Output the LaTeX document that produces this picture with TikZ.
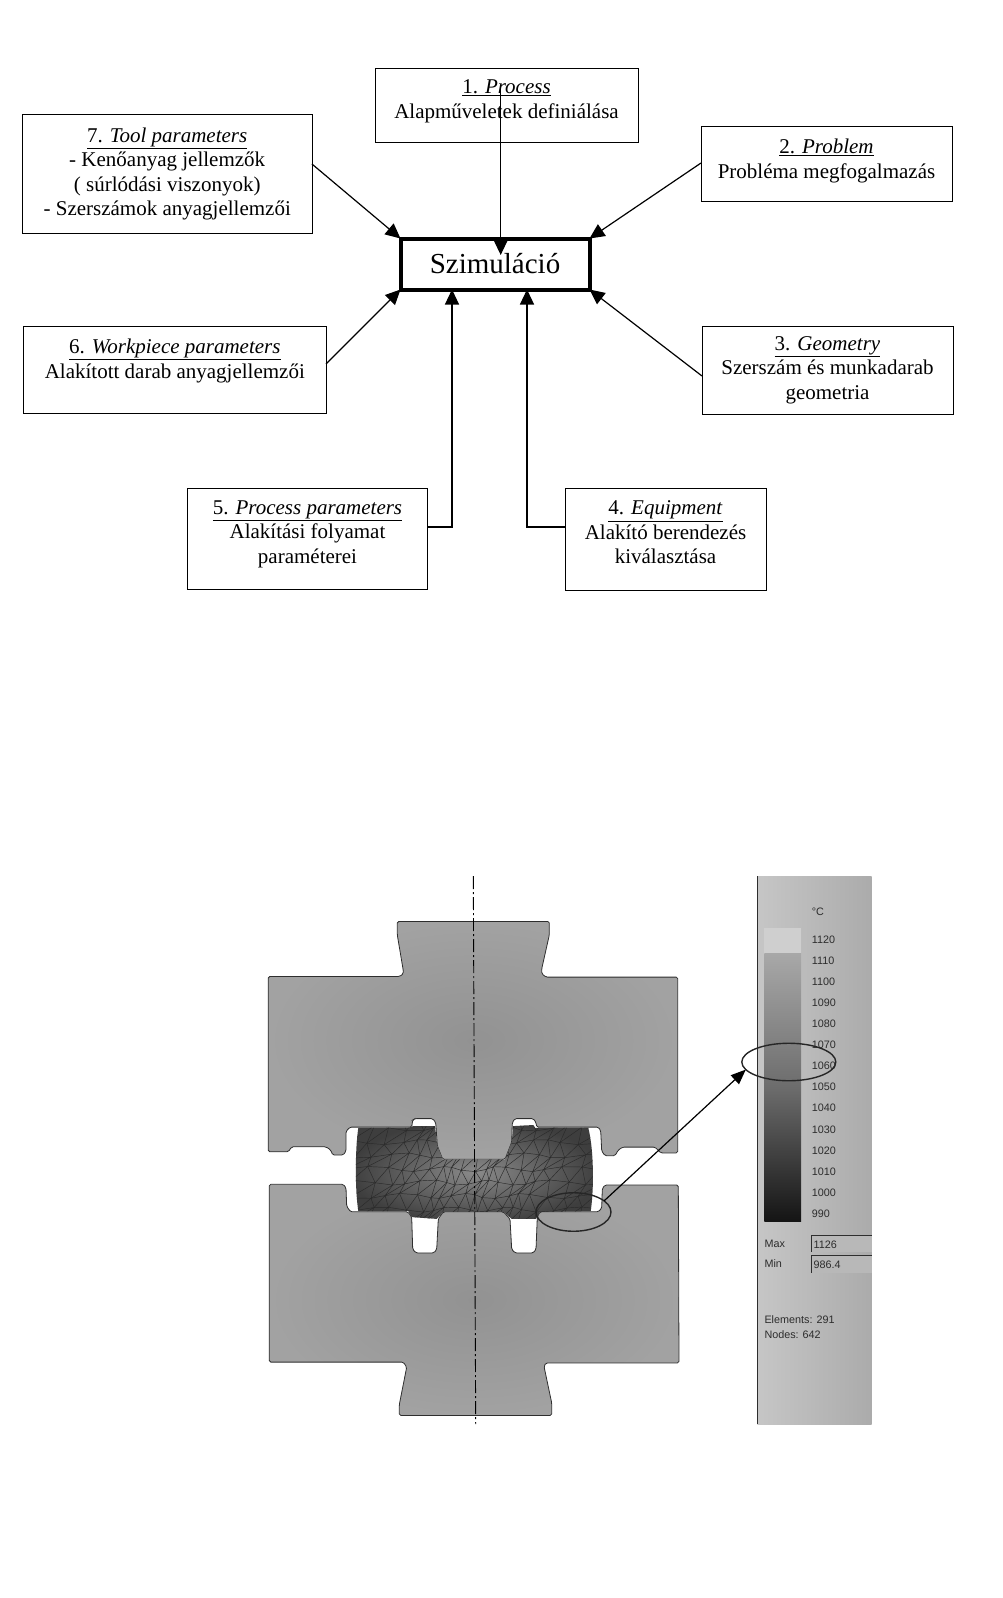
\documentclass[tikz,border=0pt]{standalone}
\usepackage{fontspec}
\setmainfont{Liberation Serif}
\newfontfamily\legendfont{Liberation Sans}
\usetikzlibrary{arrows.meta,shapes.geometric}
\definecolor{DieGray}{HTML}{A2A2A2}
\definecolor{DieDark}{HTML}{929292}
\definecolor{DieLine}{HTML}{2E2E2E}
\definecolor{PartDark}{HTML}{3E3E3E}
\definecolor{PartMid}{HTML}{8A8A8A}
\definecolor{MeshLine}{HTML}{2A2A2A}
\definecolor{PanelLight}{HTML}{C6C6C6}
\definecolor{PanelGray}{HTML}{ABABAB}
\definecolor{LegendLight}{HTML}{CFCFCF}
\definecolor{LegendTop}{HTML}{A8A8A8}
\definecolor{LegendMid}{HTML}{6C6C6C}
\definecolor{LegendEnd}{HTML}{141414}
\definecolor{LegendText}{HTML}{2C2C2C}
\tikzset{
  infobox/.style={draw,line width=0.9pt,outer sep=0pt,inner sep=0pt,align=center,font=\fontsize{21}{24.5}\selectfont},
  lift/.style={text depth=#1},
  flowline/.style={line width=1.2pt,-{Triangle[length=15pt,width=14pt]}},
  mark ring/.style={draw=black!85,line width=1.4pt,ellipse,inner sep=0pt,outer sep=0pt},
  dieshape/.style={draw=DieLine,line width=0.8pt,rounded corners=1.5pt,shading=radial,inner color=DieDark,outer color=DieGray},
  legendtext/.style={text=LegendText,anchor=west,inner sep=0pt,font=\legendfont\fontsize{10.8}{12}\selectfont}
}
\begin{document}
\begin{tikzpicture}[x=1pt,y=-1pt,
    declare function={
      ux(\i)=(\i-9)/9;
      meshx(\i,\j)=474+ux(\i)*(95+30*ux(\i)*ux(\i))+5*mod(\j,2)+2.6*sin(\i*97+\j*61);
      meshy(\i,\j)=1115+\j*13.5+2.6*cos(\i*71+\j*113);
    }]
  \useasboundingbox (0,0) rectangle (1002,1598);
  \node[infobox,minimum width=263pt,minimum height=74pt,lift=12pt] (process) at (506.5,105) {\underline{1. \textit{Process}}\\Alapműveletek definiálása};
  \node[infobox,minimum width=251pt,minimum height=75pt,lift=10pt] (problem) at (826.5,163.5) {\underline{2. \textit{Problem}}\\Probléma megfogalmazás};
  \node[infobox,minimum width=251pt,minimum height=88pt,lift=4pt] (geometry) at (827.5,370) {\underline{3. \textit{Geometry}}\\Szerszám és munkadarab\\geometria};
  \node[infobox,minimum width=201pt,minimum height=102pt,lift=13pt] (equipment) at (665.5,539) {\underline{4. \textit{Equipment}}\\Alakító berendezés\\kiválasztása};
  \node[infobox,minimum width=239.5pt,minimum height=101pt,lift=13pt] (procpar) at (307.5,538.5) {\underline{5. \textit{Process parameters}}\\Alakítási folyamat\\paraméterei};
  \node[infobox,minimum width=302.5pt,minimum height=87pt,lift=22pt] (workpiece) at (174.8,369.5) {\underline{6. \textit{Workpiece parameters}}\\Alakított darab anyagjellemzői};
  \node[infobox,minimum width=289.5pt,minimum height=119pt,lift=4pt] (tool) at (167.2,173.5) {\underline{7. \textit{Tool parameters}}\\- Kenőanyag jellemzők\\( súrlódási viszonyok)\\- Szerszámok anyagjellemzői};
  \node[draw,line width=4pt,outer sep=0pt,inner sep=0pt,minimum width=189pt,minimum height=51pt,font=\fontsize{29}{32}\selectfont] (sim) at (495,264) {Szimuláció};
  \coordinate (processtail) at (500.7,87);
  \coordinate (processhead) at (500.7,255);
  \draw[flowline] (processtail) -- (processhead);
  \draw[flowline] ([yshift=0.5pt]problem.west) -- (sim.north east);
  \draw[flowline] ([yshift=-6pt]geometry.west) -- (sim.south east);
  \draw[flowline] ([yshift=12pt]equipment.west) -| ([xshift=32pt]sim.south);
  \draw[flowline] ([yshift=11.5pt]procpar.east) -| ([xshift=-43pt]sim.south);
  \draw[flowline] ([yshift=5.5pt]workpiece.east) -- (sim.south west);
  \draw[flowline] ([yshift=9.5pt]tool.east) -- (sim.north west);

  \shade[left color=PanelLight,right color=PanelGray] (757.3,876) rectangle (871.7,1424);
  \draw[DieLine,line width=1pt] (757.3,876) -- (757.3,1424);
  \fill[LegendLight] (764.3,927.9) rectangle (801,953.6);
  \shade[top color=LegendTop,bottom color=LegendEnd,middle color=LegendMid] (764.3,953.6) rectangle (801,1221.8);
  \node[legendtext] (unit) at (811.7,911.8) {°C};
  \foreach \temp [count=\row from 0] in {1120,1110,...,990}
    \node[legendtext] (temp\temp) at (811.7,{939.6+\row*21.08}) {\temp};
  \node[legendtext] (maxlabel) at (764.3,1244) {Max};
  \node[legendtext] (minlabel) at (764.3,1263.6) {Min};
  \fill[PanelGray!85] (811,1235.7) rectangle (871.7,1251.8);
  \fill[PanelGray!85] (811,1255.7) rectangle (871.7,1272.5);
  \draw[DieLine,line width=0.9pt] (811,1251.8) -- (811,1235.7) -- (871.7,1235.7);
  \draw[DieLine,line width=0.9pt] (811,1272.5) -- (811,1255.7) -- (871.7,1255.7);
  \node[legendtext] (maxvalue) at (813.5,1244.5) {1126};
  \node[legendtext] (minvalue) at (813.5,1264.5) {986.4};
  \node[legendtext] (elements) at (764.3,1319.6) {Elements: 291};
  \node[legendtext] (nodecount) at (764.3,1335) {Nodes: 642};

  \draw[dieshape] (397.3,921.4) -- (549.3,921.4) -- (549.3,935) -- (541.7,968.9) -- (541.7,973.6) -- (546,977.1) -- (677.7,977.1) -- (677.7,1152.9) -- (660.7,1152.9) -- (655,1147.1) -- (622.7,1147.1) -- (618.3,1150) -- (615,1155.7) -- (605,1155.7) -- (601.7,1151) -- (600.7,1130.7) -- (598.3,1127.1) -- (536.7,1127.1) -- (536,1122.5) -- (533.3,1118.6) -- (515,1118.6) -- (512.3,1122.5) -- (511.7,1142.1) -- (505,1159.3) -- (442.7,1159.3) -- (437.3,1145.7) -- (435.7,1122.5) -- (432.7,1118.6) -- (415,1118.6) -- (412.7,1120) -- (411.7,1127.1) -- (350,1127.1) -- (346,1131.4) -- (346,1151) -- (343.3,1155) -- (332.7,1155) -- (330.7,1150) -- (326,1146.8) -- (291.7,1146.8) -- (288.3,1151.8) -- (268.3,1151.8) -- (268.3,976.4) -- (400,976.4) -- (403.3,973.6) -- (403.3,970.7) -- (397.3,935) -- cycle;
  \draw[dieshape] (269.3,1184.3) -- (343.3,1184.3) -- (346,1187.9) -- (346.7,1206.4) -- (350.7,1211.8) -- (408,1211.8) -- (411.7,1217.1) -- (412.7,1249.3) -- (416,1252.9) -- (434,1252.9) -- (436.7,1249.3) -- (438.3,1218.9) -- (443.3,1211.8) -- (503.3,1211.8) -- (510,1218.9) -- (511.7,1249.3) -- (515,1252.9) -- (533.3,1252.9) -- (536,1249.3) -- (537.3,1217.1) -- (540,1211.8) -- (598.3,1211.8) -- (601.7,1208.2) -- (602.3,1188.6) -- (605,1185) -- (678.3,1185) -- (679,1362.9) -- (546,1362.9) -- (544,1366.4) -- (551.7,1402.9) -- (551.7,1415.4) -- (399.3,1415.4) -- (399.3,1404.6) -- (406.7,1367.1) -- (403.3,1362.1) -- (269.3,1362.1) -- cycle;

  \begin{scope}
    \clip (358.3,1127.9) .. controls (355,1150) and (355,1190) .. (358.3,1211.1) -- (408.3,1211.1) -- (411.7,1217.1) -- (436.7,1218.9) -- (443.3,1211.8) -- (503.3,1211.8) -- (511.7,1218.9) -- (536,1218.9) -- (540,1211.8) -- (590.7,1211.1) .. controls (594,1190) and (594,1150) .. (588.3,1127.9) -- (535,1127.9) -- (533.3,1125) -- (513.3,1126.1) -- (511.7,1142.1) -- (505,1159.3) -- (442.7,1159.3) -- (437.3,1145.7) -- (435,1126.1) -- (413.3,1126.1) -- (408.3,1127.9) -- cycle;
    \shade[shading=radial,inner color=PartMid,outer color=PartDark] (350,1120) rectangle (600,1225);
    \foreach \i in {0,...,17}
      \foreach \j in {0,...,7}
        \draw[MeshLine,line width=0.45pt] ({meshx(\i,\j)},{meshy(\i,\j)}) -- ({meshx(\i+1,\j)},{meshy(\i+1,\j)}) -- ({meshx(\i,\j+1)},{meshy(\i,\j+1)}) -- cycle;
  \end{scope}

  \coordinate (axistop) at (473.3,876);
  \coordinate (axisend) at (475.7,1424);
  \draw[black,line width=0.9pt,dash pattern=on 13pt off 3pt on 2pt off 3pt] (axistop) -- (axisend);
  \node[mark ring,minimum width=75pt,minimum height=38.5pt] (spot) at (573.5,1212) {};
  \node[mark ring,minimum width=94pt,minimum height=37.5pt] (scale) at (788.8,1062) {};
  \draw[line width=1.2pt,-{Triangle[length=15pt,width=12pt]}] (spot.20) -- (scale.190);
\end{tikzpicture}
\end{document}
